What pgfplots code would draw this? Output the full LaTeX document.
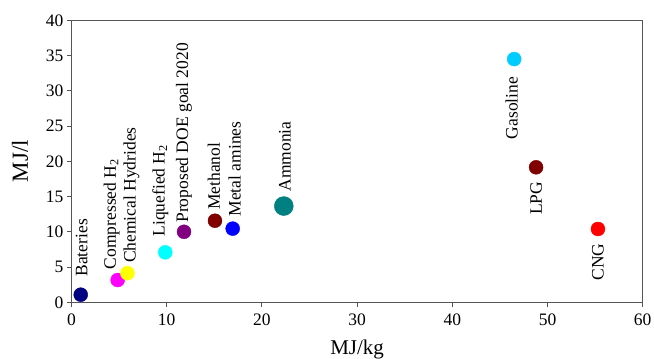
\documentclass[border=0pt]{standalone}
\usepackage{pgfplots}
\pgfplotsset{compat=1.18}
\usepackage{fontspec}
\setmainfont{Liberation Serif}
\definecolor{cNavy}{HTML}{000080}
\definecolor{cMag}{HTML}{FF00FF}
\definecolor{cYel}{HTML}{FFFF00}
\definecolor{cCyan}{HTML}{00FFFF}
\definecolor{cPurp}{HTML}{800080}
\definecolor{cMaroon}{HTML}{800000}
\definecolor{cBlue}{HTML}{0000FF}
\definecolor{cTeal}{HTML}{008080}
\definecolor{cSky}{HTML}{00CCFF}
\definecolor{cRed}{HTML}{FF0000}
\definecolor{axgray}{HTML}{555555}
\tikzset{lbl/.style={rotate=90, inner sep=0pt, font=\fontsize{17.5}{20}\selectfont}}
\begin{document}
\begin{tikzpicture}
\begin{axis}[
  scale only axis, width=571.2pt, height=282pt,
  xmin=0, xmax=60, ymin=0, ymax=40,
  xtick={0,10,...,60}, ytick={0,5,...,40},
  axis line style={draw=axgray, line width=0.9pt},
  tick style={draw=axgray, line width=0.9pt},
  tick align=outside, xtick pos=bottom, ytick pos=left,
  major tick length=4.5pt,
  /pgf/number format/assume math mode=true,
  tick label style={font=\fontsize{17.5}{20}\selectfont},
  x tick label style={yshift=-4pt},
  xlabel={MJ/kg}, ylabel={MJ/l},
  xlabel style={font=\fontsize{21}{24}\selectfont, at={(axis description cs:0.5,-0.1667)}, anchor=center},
  ylabel style={font=\fontsize{23}{26}\selectfont, at={(axis description cs:-0.0902,0.5)}, anchor=center},
  clip=false,
  only marks,
]
\addplot[mark=*, mark size=7pt, color=cNavy] coordinates {(0.97,1.08)};
\addplot[mark=*, mark size=7pt, color=cMag] coordinates {(4.85,3.16)};
\addplot[mark=*, mark size=7pt, color=cYel] coordinates {(5.87,4.13)};
\addplot[mark=*, mark size=7pt, color=cCyan] coordinates {(9.85,7.09)};
\addplot[mark=*, mark size=7pt, color=cPurp] coordinates {(11.82,10.0)};
\addplot[mark=*, mark size=7pt, color=cMaroon] coordinates {(15.07,11.57)};
\addplot[mark=*, mark size=7pt, color=cBlue] coordinates {(16.93,10.45)};
\addplot[mark=*, mark size=9.5pt, color=cTeal] coordinates {(22.3,13.65)};
\addplot[mark=*, mark size=7pt, color=cSky] coordinates {(46.5,34.5)};
\addplot[mark=*, mark size=7pt, color=cMaroon] coordinates {(48.8,19.15)};
\addplot[mark=*, mark size=7pt, color=cRed] coordinates {(55.3,10.4)};

\node[lbl, anchor=west] at ([xshift=1pt,yshift=18pt]axis cs:0.97,1.08) {Bateries};
\node[lbl, anchor=west] at ([xshift=-6pt,yshift=10.7pt]axis cs:4.85,3.16) {Compressed H\textsubscript{2}};
\node[lbl, anchor=west] at ([xshift=4pt,yshift=10pt]axis cs:5.87,4.13) {Chemical Hydrides};
\node[lbl, anchor=west] at ([xshift=-5pt,yshift=15.6pt]axis cs:9.85,7.09) {Liquefied H\textsubscript{2}};
\node[lbl, anchor=west] at ([xshift=0pt,yshift=9pt]axis cs:11.82,10.0) {Proposed DOE goal 2020};
\node[lbl, anchor=west] at ([xshift=-1pt,yshift=10.7pt]axis cs:15.07,11.57) {Methanol};
\node[lbl, anchor=west] at ([xshift=2pt,yshift=12pt]axis cs:16.93,10.45) {Metal amines};
\node[lbl, anchor=west] at ([xshift=1pt,yshift=14.3pt]axis cs:22.3,13.65) {Ammonia};
\node[lbl, anchor=east] at ([xshift=-2.6pt,yshift=-17.7pt]axis cs:46.5,34.5) {Gasoline};
\node[lbl, anchor=east] at ([xshift=0pt,yshift=-14.3pt]axis cs:48.8,19.15) {LPG};
\node[lbl, anchor=east] at ([xshift=0pt,yshift=-14.3pt]axis cs:55.3,10.4) {CNG};

\coordinate (bl) at (rel axis cs:0,0);
\coordinate (tr) at (rel axis cs:1,1);
\end{axis}
\pgfresetboundingbox
\useasboundingbox ([xshift=-71.5pt,yshift=-56.7pt]bl) rectangle ([xshift=11.3pt,yshift=20.3pt]tr);
\end{tikzpicture}
\end{document}
